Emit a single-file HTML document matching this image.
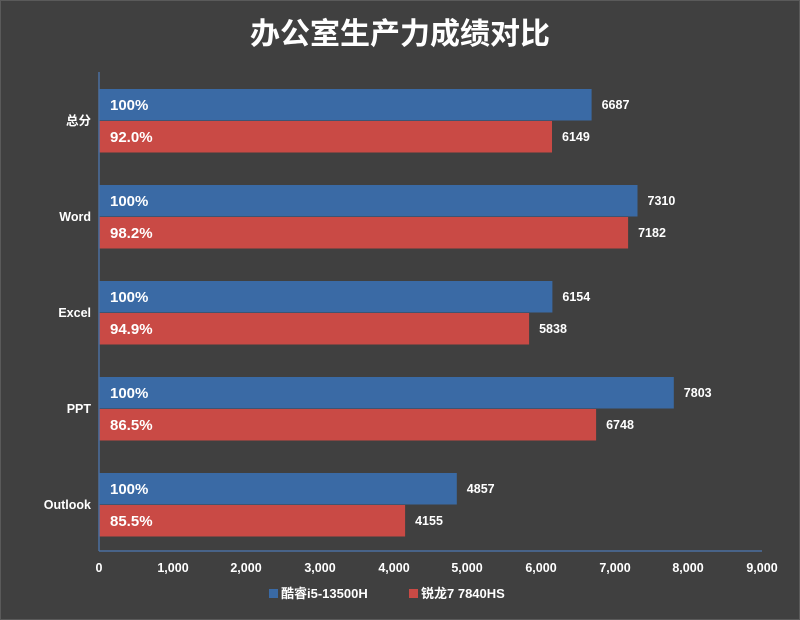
<!DOCTYPE html>
<html><head><meta charset="utf-8"><style>
body{margin:0;background:#404040;}
svg{display:block;}
text{font-family:"Liberation Sans","Noto Sans CJK SC",sans-serif;fill:#fff;font-weight:bold;}
</style></head><body>
<svg width="800" height="620" xmlns="http://www.w3.org/2000/svg">
<rect x="0" y="0" width="800" height="620" fill="#404040"/>
<rect x="0.5" y="0.5" width="799" height="619" fill="none" stroke="#5a5a5a"/>
<text x="400" y="44" font-size="30" text-anchor="middle">办公室生产力成绩对比</text>

<rect x="99" y="89" width="492.6" height="31.5" fill="#3a6aa5"/>
<rect x="99" y="121" width="453.0" height="31.5" fill="#c94a45"/>
<rect x="99" y="185" width="538.5" height="31.5" fill="#3a6aa5"/>
<rect x="99" y="217" width="529.1" height="31.5" fill="#c94a45"/>
<rect x="99" y="281" width="453.4" height="31.5" fill="#3a6aa5"/>
<rect x="99" y="313" width="430.1" height="31.5" fill="#c94a45"/>
<rect x="99" y="377" width="574.8" height="31.5" fill="#3a6aa5"/>
<rect x="99" y="409" width="497.1" height="31.5" fill="#c94a45"/>
<rect x="99" y="473" width="357.8" height="31.5" fill="#3a6aa5"/>
<rect x="99" y="505" width="306.1" height="31.5" fill="#c94a45"/>

<g font-size="12.5" text-anchor="end">
<text x="91" y="125">总分</text>
<text x="91" y="221">Word</text>
<text x="91" y="317">Excel</text>
<text x="91" y="413">PPT</text>
<text x="91" y="509">Outlook</text>
</g>
<g font-size="15">
<text x="110" y="110">100%</text><text x="110" y="142">92.0%</text>
<text x="110" y="206">100%</text><text x="110" y="238">98.2%</text>
<text x="110" y="302">100%</text><text x="110" y="334">94.9%</text>
<text x="110" y="398">100%</text><text x="110" y="430">86.5%</text>
<text x="110" y="494">100%</text><text x="110" y="526">85.5%</text>
</g>
<g font-size="12.5">
<text x="601.6" y="109">6687</text><text x="562" y="141">6149</text>
<text x="647.5" y="205">7310</text><text x="638.1" y="237">7182</text>
<text x="562.4" y="301">6154</text><text x="539.1" y="333">5838</text>
<text x="683.8" y="397">7803</text><text x="606.1" y="429">6748</text>
<text x="466.8" y="493">4857</text><text x="415.1" y="525">4155</text>
</g>

<line x1="99" y1="72" x2="99" y2="551" stroke="#4a6fa0" stroke-width="1.5"/>
<line x1="99" y1="551" x2="762" y2="551" stroke="#4a6fa0" stroke-width="1.5"/>
<g font-size="12.5" text-anchor="middle">
<text x="99" y="572">0</text><text x="173" y="572">1,000</text><text x="246" y="572">2,000</text><text x="320" y="572">3,000</text><text x="394" y="572">4,000</text><text x="467" y="572">5,000</text><text x="541" y="572">6,000</text><text x="615" y="572">7,000</text><text x="688" y="572">8,000</text><text x="762" y="572">9,000</text>
</g>
<rect x="269" y="589" width="9" height="9" fill="#3a6aa5"/>
<text x="281" y="598" font-size="13">酷睿i5-13500H</text>
<rect x="409" y="589" width="9" height="9" fill="#c94a45"/>
<text x="421" y="598" font-size="13">锐龙7 7840HS</text>
</svg>
</body></html>
